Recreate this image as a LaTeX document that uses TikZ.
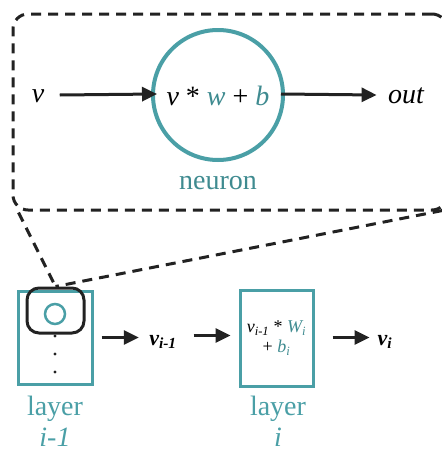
\documentclass[tikz,border=0pt]{standalone}
\usepackage{fontspec}
\setmainfont{Liberation Serif}
\usetikzlibrary{calc, arrows.meta}
\definecolor{tealring}{HTML}{4A9FA6}
\definecolor{tealtext}{HTML}{3F8B90}
\definecolor{inkblack}{HTML}{222222}

\begin{document}
\begin{tikzpicture}[x=1pt, y=-1pt,
    flow/.style={-{Triangle[length=15pt,width=14pt]}, line width=3pt, draw=inkblack},
    lens/.style={draw=inkblack, line width=3pt, dash pattern=on 10pt off 7pt},
    layerbox/.style={draw=tealring, line width=3pt, inner sep=0pt},
    caption/.style={text=tealring, font=\fontsize{28}{31}\selectfont, align=center, inner sep=0pt}]
    \useasboundingbox (0,0) rectangle (442,453);

    % 1. Zoomed view of one neuron
    \node[lens, rounded corners=15pt, minimum width=434pt, minimum height=196pt] (zoom) at (230,112) {};
    \node[circle, draw=tealring, line width=4pt, minimum size=130pt, inner sep=0pt] (neuron) at (218,95) {};
    \node[font=\fontsize{28}{30}\selectfont] (formula) at (218,96)
        {\textit{v} * \textcolor{tealtext}{\textit{w}} + \textcolor{tealtext}{\textit{b}}};
    \node[font=\fontsize{28}{30}\selectfont\itshape] (vin) at (38,96) {v};
    \node[font=\fontsize{28}{30}\selectfont\itshape] (out) at (406,96) {out};
    \node[text=tealtext, font=\fontsize{28}{30}\selectfont] (neuronlbl) at (218,183) {neuron};

    \draw[flow] ($(vin.east)+(12,-1)$) -- ($(neuron.west)+(6,-1)$);
    \draw[flow] ($(neuron.east)+(-4,-1)$) -- ($(out.west)+(-8,-1)$);

    % 2. Layers
    \node[layerbox, minimum width=74pt, minimum height=93pt] (prev) at (55,337.5) {};
    \node[layerbox, minimum width=73pt, minimum height=96pt, font=\fontsize{18}{20}\selectfont\itshape, align=center] (cur) at (276.5,338)
        {v\textsubscript{i-1} \upshape* \textcolor{tealtext}{\itshape W\textsubscript{i}}\\
         \upshape+ \textcolor{tealtext}{\itshape b\textsubscript{i}}};

    % neuron inside layer i-1
    \node[draw=inkblack, line width=3pt, rounded corners=12pt, minimum width=57pt, minimum height=45pt] (focus) at (55.5,310.5) {};
    \node[circle, draw=tealring, line width=2.5pt, minimum size=20pt, inner sep=0pt] (cell) at (55,314) {};
    \foreach \y in {336,354,372} {
        \fill[inkblack] (55,\y) circle (1.7pt);
    }

    % 3. Zoom lines
    \draw[lens] ($(zoom.south west)+(7,1)$) -- (focus.north);
    \draw[lens] ($(zoom.south east)+(-6,-1)$) -- (focus.north);

    % 4. Values between layers
    \node[font=\fontsize{22}{24}\selectfont\bfseries\itshape] (vprev) at (163,342) {v\textsubscript{i-1}};
    \node[font=\fontsize{22}{24}\selectfont\bfseries\itshape] (vcur) at (385,342) {v\textsubscript{i}};

    \draw[flow, shorten <=8pt] (prev.east) -- ($(prev.east -| vprev.west)+(-7,0)$);
    \draw[flow] ($(cur.west |- prev.east)+(-45,-2)$) -- ($(cur.west |- prev.east)+(-8,-2)$);
    \draw[flow, shorten <=18pt] (cur.east |- prev.east) -- ($(cur.east |- prev.east)+(55,0)$);

    % 5. Labels
    \node[caption] (prevlbl) at (55,421) {layer\\\textit{i-1}};
    \node[caption] (curlbl) at (278,421) {layer\\\textit{i}};

\end{tikzpicture}
\end{document}
